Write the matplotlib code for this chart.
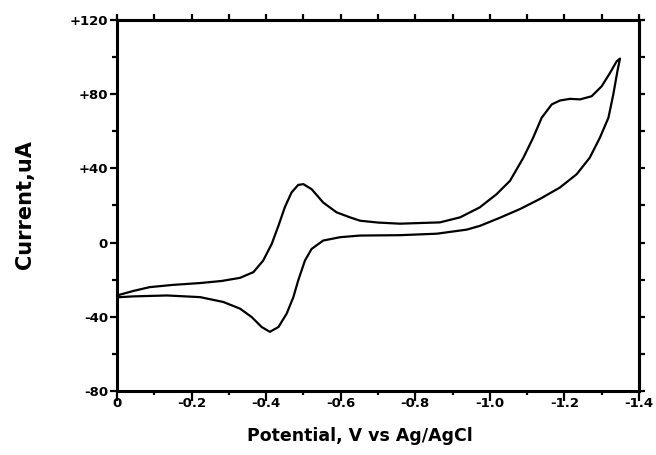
import matplotlib
matplotlib.use("Agg")
import matplotlib.pyplot as plt
from matplotlib.ticker import MultipleLocator, FuncFormatter, NullFormatter

# forward scan, 0 V -> -1.35 V (upper branch)
fwd_v = [0.0, -0.045, -0.088, -0.15, -0.223, -0.28, -0.330, -0.366, -0.392,
         -0.415, -0.433, -0.450, -0.468, -0.486, -0.500, -0.522, -0.553,
         -0.589, -0.625, -0.652, -0.700, -0.759, -0.866, -0.920, -0.973,
         -1.018, -1.054, -1.090, -1.116, -1.139, -1.166, -1.188, -1.215,
         -1.242, -1.273, -1.300, -1.322, -1.340, -1.349]
fwd_i = [-28.5, -26.0, -24.0, -22.8, -21.8, -20.7, -19.0, -15.9, -9.7,
         -0.7, 9.1, 19.0, 27.0, 31.1, 31.5, 28.8, 21.6,
         16.3, 13.6, 11.8, 10.8, 10.2, 10.9, 13.6, 19.0,
         26.1, 33.3, 45.8, 56.5, 67.3, 74.5, 76.6, 77.5,
         77.2, 78.9, 84.3, 91.4, 97.7, 99.2]

# return scan, -1.35 V -> 0 V (lower branch)
rev_v = [-1.349, -1.342, -1.331, -1.318, -1.295, -1.268, -1.233, -1.188,
         -1.134, -1.081, -1.027, -0.973, -0.938, -0.858, -0.759, -0.652,
         -0.598, -0.553, -0.522, -0.504, -0.486, -0.473, -0.455, -0.433,
         -0.410, -0.388, -0.361, -0.330, -0.285, -0.223, -0.134, -0.043, 0.0]
rev_i = [99.2, 92.3, 79.8, 67.3, 56.5, 45.8, 36.9, 29.7,
         23.5, 18.1, 13.4, 9.0, 7.0, 4.8, 4.0, 3.8,
         2.9, 1.1, -3.4, -9.7, -20.4, -29.4, -38.3, -45.5,
         -48.1, -45.5, -40.1, -35.6, -32.0, -29.4, -28.5, -29.0, -29.5]

x_ticks = [0, -0.2, -0.4, -0.6, -0.8, -1.0, -1.2, -1.4]
y_ticks = [-80, -40, 0, 40, 80, 120]

FONT = 'DejaVu Sans'

fig = plt.figure(figsize=(6.56, 4.55), dpi=100)
ax = fig.add_axes([117 / 656, 1 - 391 / 455, 522 / 656, 371 / 455])

ax.plot(fwd_v + rev_v, fwd_i + rev_i, color='black', lw=1.6,
        solid_joinstyle='round')

ax.set_xlim(0, -1.4)
ax.set_ylim(-80, 120)

for s in ax.spines.values():
    s.set_linewidth(2.2)


def xfmt(v, pos):
    if abs(v) < 1e-9:
        return "0"
    return "-%.1f" % abs(v)


def yfmt(v, pos):
    if v > 0:
        return "+%d" % v
    if v < 0:
        return "-%d" % abs(v)
    return "0"


ax.set_xticks(x_ticks)
ax.set_yticks(y_ticks)
ax.xaxis.set_minor_locator(MultipleLocator(0.1))
ax.yaxis.set_minor_locator(MultipleLocator(20))
ax.xaxis.set_major_formatter(FuncFormatter(xfmt))
ax.yaxis.set_major_formatter(FuncFormatter(yfmt))

ax.tick_params(which='both', direction='out', width=1.6, colors='black')
ax.tick_params(axis='x', which='major', length=7.5, pad=-3, labelsize=9.5)
ax.tick_params(axis='x', which='minor', length=3)
ax.tick_params(axis='y', which='major', length=5, pad=1.5, labelsize=9.5)
ax.tick_params(axis='y', which='minor', length=3.5)
for lbl in ax.get_xticklabels() + ax.get_yticklabels():
    lbl.set_fontweight('bold')
    lbl.set_family(FONT)

# top axis: small ticks every 0.1, no labels
top = ax.secondary_xaxis('top')
top.xaxis.set_major_locator(MultipleLocator(0.1))
top.xaxis.set_major_formatter(NullFormatter())
top.tick_params(direction='out', length=4, width=1.6)
top.spines['top'].set_linewidth(2.2)

# right axis: ticks every 20, no labels
right = ax.secondary_yaxis('right')
right.yaxis.set_major_locator(MultipleLocator(20))
right.yaxis.set_major_formatter(NullFormatter())
right.tick_params(direction='out', length=4.5, width=1.6)
right.spines['right'].set_linewidth(2.2)

fig.text(25 / 656, 1 - 205 / 455, "Current,uA", rotation=90, ha='center',
         va='center', fontsize=15, fontweight='bold', family=FONT)
fig.text(360 / 656, 1 - 436 / 455, "Potential, V vs Ag/AgCl", ha='center',
         va='center', fontsize=12.5, fontweight='bold', family=FONT)

fig.savefig("out.png", dpi=100)
